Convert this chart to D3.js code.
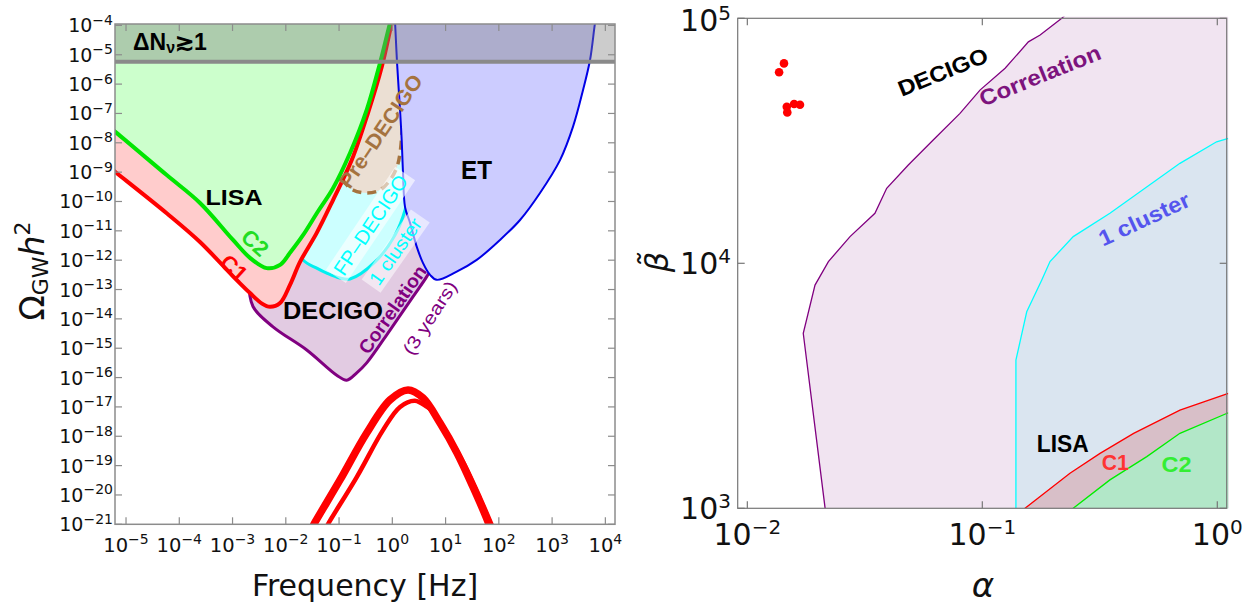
<!DOCTYPE html>
<html>
<head>
<meta charset="utf-8">
<script src="https://cdn.jsdelivr.net/npm/d3@7"></script>
<style>
  body { margin: 0; background: #fff; }
  svg { display: block; }
</style>
</head>
<body>
<svg id="chart" width="1256" height="609"></svg>
<script>
// ================= data =================
// Left panel: curves as [log10 f/Hz, log10 Omega_GW h^2]
const freqTickExp  = [-5, -4, -3, -2, -1, 0, 1, 2, 3, 4];
const omegaTickExp = [-21, -20, -19, -18, -17, -16, -15, -14, -13, -12, -11, -10, -9, -8, -7, -6, -5, -4];
const deltaNeffLog = -5.24;

const lisaC2 = [[-5.25,-7.56],[-5.207,-7.62],[-4.236,-9.10],[-3.611,-10.05],[-2.991,-11.31],[-2.672,-11.92],
  [-2.358,-12.27],[-2.10,-12.15],[-1.921,-11.75],[-1.677,-11.15],[-1.40,-10.35],[-1.113,-9.55],
  [-0.794,-8.35],[-0.481,-6.88],[-0.231,-5.28],[-0.043,-3.92],[0.02,-3.5]];
const lisaC1 = [[-5.25,-8.92],[-5.207,-8.985],[-4.236,-10.40],[-3.611,-11.38],[-2.991,-12.55],[-2.672,-13.12],
  [-2.447,-13.48],[-2.296,-13.59],[-2.108,-13.46],[-1.921,-12.84],[-1.733,-12.06],[-1.419,-11.07],
  [-1.113,-9.95],[-0.762,-8.59],[-0.456,-6.98],[-0.199,-5.42],[-0.011,-3.92],[0.05,-3.5]];
const decigoCorr = [[-2.70,-12.6],[-2.616,-13.58],[-2.24,-14.27],[-1.607,-15.06],[-1.044,-15.92],
  [-0.856,-16.09],[-0.668,-15.84],[-0.481,-15.50],[-0.043,-14.38],[0.389,-13.24],[0.646,-12.56],
  [0.80,-12.06],[0.99,-9.95],[1.08,-6.54],[1.18,-3.6]];
const fpDecigo = [[-2.296,-8.24],[-2.015,-10.46],[-1.677,-11.99],[-1.419,-12.27],[-1.232,-12.44],[-0.982,-12.61],
  [-0.794,-12.64],[-0.325,-12.06],[0.051,-11.14],[0.239,-10.29],[0.333,-9.27],[0.427,-7.22],
  [0.521,-4.5],[0.58,-3.5]];
const preDecigo = [[-1.02,-8.75],[-0.926,-9.27],[-0.738,-9.61],[-0.475,-9.71],[-0.231,-9.61],[-0.043,-9.27],
  [0.088,-8.82],[0.145,-8.35],[0.2,-7.2],[0.295,-5.2],[0.37,-3.6]];
const einsteinTel = [[0.04,-3.6],[0.051,-3.88],[0.088,-5.25],[0.145,-6.89],[0.176,-7.91],[0.201,-9.03],[0.239,-10.19],
  [0.333,-10.73],[0.458,-11.54],[0.577,-12.10],[0.709,-12.50],[0.834,-12.67],[1.209,-12.39],
  [1.585,-11.99],[2.022,-11.31],[2.398,-10.63],[2.773,-9.71],[3.149,-8.59],[3.393,-7.45],
  [3.581,-6.20],[3.712,-5.18],[3.806,-3.92],[3.84,-3.6]];
// predicted spectra (upper and lower benchmark)
const spectrumA = [[-1.56,-21.3],[-1.47,-20.99],[-0.982,-19.49],[-0.481,-17.89],[-0.043,-16.76],[0.295,-16.42],
  [0.574,-16.69],[0.896,-17.55],[1.215,-18.57],[1.515,-19.73],[1.797,-20.92],[1.83,-21.1]];
const spectrumB = [[-1.30,-21.3],[-1.207,-20.99],[-0.668,-19.39],[-0.175,-17.79],[0.145,-17.0],[0.426,-16.79],
  [0.652,-17.0],[0.708,-17.07],[1.027,-17.92],[1.346,-18.94],[1.647,-20.10],[1.928,-21.29]];

// Right panel: boundaries as [log10 alpha, log10 beta~]
const alphaTickExp = [-2, -1, 0];
const betaTickExp  = [3, 4, 5];
const corrBound = [[-1.669,2.98],[-1.669,3.0],[-1.762,3.714],[-1.712,3.911],[-1.655,4.007],[-1.563,4.109],
  [-1.457,4.204],[-1.407,4.306],[-1.315,4.401],[-1.209,4.503],[-1.095,4.612],[-1.010,4.707],
  [-0.903,4.796],[-0.804,4.904],[-0.754,4.932],[-0.662,5.0],[-0.64,5.02]];
const clusterBound = [[-0.857,2.98],[-0.857,3.605],[-0.811,3.802],[-0.747,3.932],[-0.712,4.007],[-0.613,4.109],
  [-0.457,4.204],[-0.159,4.408],[-0.003,4.496],[0.047,4.510]];
const lisaC1Bound = [[-0.825,2.99],[-0.818,3.0],[-0.627,3.143],[-0.499,3.224],[-0.356,3.306],[-0.159,3.401],[0.047,3.469]];
const lisaC2Bound = [[-0.62,2.99],[-0.613,3.0],[-0.457,3.116],[-0.300,3.211],[-0.159,3.306],[0.047,3.390]];
const benchAlpha = [0.01432, 0.01365, 0.01472, 0.01479, 0.01581, 0.01675];
const benchBeta  = [65460, 60260, 43550, 41300, 44670, 44360];

// ================= layout =================
const svg = d3.select('#chart');
const L = { x0: 115, x1: 615, y0: 24, y1: 524.3 };
const R = { x0: 737.7, x1: 1226.7, y0: 18.3, y1: 508.3 };

const xL = d3.scaleLog().domain([10 ** -5.207, 10 ** 4.181]).range([L.x0, L.x1]);
const yL = d3.scaleLog().domain([1e-21, 10 ** -3.952]).range([L.y1, L.y0]);
const xR = d3.scaleLog().domain([10 ** -2.041, 10 ** 0.040]).range([R.x0, R.x1]);
const yR = d3.scaleLog().domain([1e3, 1e5]).range([R.y1, R.y0]);

const defs = svg.append('defs');
defs.append('clipPath').attr('id', 'clipL').append('rect')
  .attr('x', L.x0).attr('y', L.y0).attr('width', L.x1 - L.x0).attr('height', L.y1 - L.y0);
defs.append('clipPath').attr('id', 'clipR').append('rect')
  .attr('x', R.x0).attr('y', R.y0 - 1.5).attr('width', R.x1 - R.x0 + 1.5).attr('height', R.y1 - R.y0 + 1.5);

const smooth = d3.line().x(d => xL(10 ** d[0])).y(d => yL(10 ** d[1])).curve(d3.curveCatmullRom.alpha(0.5));
const straight = d3.line().x(d => xR(10 ** d[0])).y(d => yR(10 ** d[1]));

// region above a sensitivity curve (closed through the top of the panel)
function aboveRegion(pts) {
  const first = pts[0], last = pts[pts.length - 1];
  return smooth(pts) + `L${xL(10 ** last[0])},-60L${xL(10 ** first[0])},-60Z`;
}

// ================= left panel =================
const gL = svg.append('g').attr('clip-path', 'url(#clipL)');

const layers = [
  { pts: decigoCorr, fill: '#e2cbe2', stroke: '#800080', w: 3 },
  { pts: fpDecigo,   fill: '#ccffff', stroke: '#00f0f0', w: 3 },
  { pts: preDecigo,  fill: '#ebdfd3', stroke: '#a5733f', w: 3.5, dash: '9,6' },
  { pts: lisaC1,     fill: '#ffcccc', stroke: '#ff0000', w: 4 },
  { pts: lisaC2,     fill: '#ccffcc', stroke: '#00e600', w: 4 },
  { pts: einsteinTel, fill: '#ccccff', stroke: '#0000e6', w: 2 }
];
layers.forEach(l => {
  gL.append('path').attr('d', aboveRegion(l.pts)).attr('fill', l.fill).attr('stroke', 'none');
  gL.append('path').attr('d', smooth(l.pts)).attr('fill', 'none')
    .attr('stroke', l.stroke).attr('stroke-width', l.w)
    .attr('stroke-dasharray', l.dash || null).attr('stroke-linejoin', 'round');
});

// signal spectra
gL.append('path').attr('d', smooth(spectrumA)).attr('fill', 'none').attr('stroke', '#ff0000').attr('stroke-width', 7.5);
gL.append('path').attr('d', smooth(spectrumB)).attr('fill', 'none').attr('stroke', '#ff0000').attr('stroke-width', 4.5);

// Delta N_eff bound
const yN = yL(10 ** deltaNeffLog);
gL.append('rect').attr('x', L.x0).attr('y', L.y0 - 2).attr('width', L.x1 - L.x0).attr('height', yN - L.y0 + 2)
  .attr('fill', '#808080').attr('fill-opacity', 0.4);
gL.append('line').attr('x1', L.x0).attr('x2', L.x1).attr('y1', yN).attr('y2', yN)
  .attr('stroke', '#8a8a8a').attr('stroke-width', 4);

// ================= right panel =================
const gR = svg.append('g').attr('clip-path', 'url(#clipR)');
const farR = R.x1 + 20, farB = R.y1 + 20, farT = R.y0 - 20;

gR.append('path').attr('d', straight(corrBound) + `L${farR},${farT}L${farR},${farB}Z`).attr('fill', '#f1e4f1');
gR.append('path').attr('d', straight(corrBound)).attr('fill', 'none').attr('stroke', '#800080').attr('stroke-width', 1.3);
gR.append('path').attr('d', straight(clusterBound) + `L${farR},${farB}Z`).attr('fill', '#dae5f0');
gR.append('path').attr('d', straight(clusterBound)).attr('fill', 'none').attr('stroke', '#00ffff').attr('stroke-width', 1.3);
gR.append('path').attr('d', straight(lisaC1Bound) + `L${farR},${farB}Z`).attr('fill', '#d8bfc8');
gR.append('path').attr('d', straight(lisaC1Bound)).attr('fill', 'none').attr('stroke', '#ff0000').attr('stroke-width', 1.3);
gR.append('path').attr('d', straight(lisaC2Bound) + `L${farR},${farB}Z`).attr('fill', '#b2e7c8');
gR.append('path').attr('d', straight(lisaC2Bound)).attr('fill', 'none').attr('stroke', '#00ee00').attr('stroke-width', 1.3);

// benchmark points
gR.selectAll('circle.bench').data(benchAlpha.map((a, i) => [a, benchBeta[i]])).enter()
  .append('circle').attr('class', 'bench')
  .attr('cx', d => xR(d[0])).attr('cy', d => yR(d[1])).attr('r', 4.3).attr('fill', '#ff0000');

// ================= labels =================
function rotLabel(g, o) {
  const t = g.append('g').attr('transform', `translate(${o.x},${o.y}) rotate(${o.angle || 0})`);
  const txt = t.append('text')
    .attr('text-anchor', o.anchor || 'middle')
    .attr('dominant-baseline', o.baseline || 'central')
    .attr('font-family', '"Liberation Sans", Arial, sans-serif')
    .attr('font-size', o.size).attr('font-weight', o.weight || 'normal')
    .attr('fill', o.color).text(o.text);
  if (o.len) txt.attr('textLength', o.len).attr('lengthAdjust', 'spacingAndGlyphs');
  if (o.box) {
    const bb = txt.node().getBBox();
    t.insert('rect', 'text').attr('x', bb.x - 4).attr('y', bb.y - 1)
      .attr('width', bb.width + 8).attr('height', bb.height + 2)
      .attr('fill', '#fff').attr('fill-opacity', o.box);
  }
}
const gLab = svg.append('g');
const leftLabels = [
  { text: 'Pre–DECIGO', f: -0.222, o: -7.60, angle: -56, size: 21, weight: 'bold', color: '#a5733f', len: 132 },
  { text: 'FP–DECIGO', f: -0.409, o: -10.80, angle: -56, size: 20, color: '#00ffff', box: 0.6, len: 116 },
  { text: '1 cluster', f: 0.060, o: -11.70, angle: -55, size: 19, color: '#00ffff', box: 0.55, len: 77 },
  { text: 'Correlation', f: 0.004, o: -13.68, angle: -55, size: 19, weight: 'bold', color: '#800080', len: 103 },
  { text: '(3 years)', f: 0.708, o: -13.97, angle: -57, size: 18, color: '#800080', len: 84 },
  { text: 'C2', f: -2.578, o: -11.41, angle: 42, size: 22, weight: 'bold', color: '#22dd22' },
  { text: 'C1', f: -2.972, o: -12.27, angle: 42, size: 22, weight: 'bold', color: '#ff0000' },
  { text: 'LISA', f: -2.972, o: -9.85, size: 22, weight: 'bold', color: '#000', len: 57 },
  { text: 'ET', f: 1.581, o: -8.94, size: 25, weight: 'bold', color: '#000', len: 31 },
  { text: 'DECIGO', f: -1.113, o: -13.70, size: 24, weight: 'bold', color: '#000', len: 100 }
];
leftLabels.forEach(d => rotLabel(gLab, { ...d, x: xL(10 ** d.f), y: yL(10 ** d.o) }));

// Delta N label
const dn = gLab.append('text').attr('x', xL(10 ** -4.869)).attr('y', yL(10 ** -4.84))
  .attr('font-family', '"Liberation Sans", Arial, sans-serif').attr('font-weight', 'bold')
  .attr('font-size', 23).attr('fill', '#000');
dn.append('tspan').text('ΔN');
dn.append('tspan').attr('font-size', 16).attr('dy', 3).text('ν');
dn.append('tspan').attr('dy', -3).text('≳1');

const rightLabels = [
  { text: 'DECIGO', a: -1.343, b: 4.680, angle: -22, size: 22, color: '#000', len: 95 },
  { text: 'Correlation', a: -0.997, b: 4.639, angle: -22, size: 22, color: '#7d137d', len: 129 },
  { text: '1 cluster', a: -0.486, b: 4.068, angle: -25, size: 22, color: '#5555ee', len: 98 },
  { text: 'LISA', a: -0.768, b: 3.231, angle: 0, size: 23, color: '#000', len: 52 },
  { text: 'C1', a: -0.492, b: 3.156, angle: 0, size: 22, color: '#ff3333', len: 27 },
  { text: 'C2', a: -0.237, b: 3.149, angle: 0, size: 22, color: '#33ee33', len: 30 }
];
rightLabels.forEach(d => rotLabel(gLab, { ...d, x: xR(10 ** d.a), y: yR(10 ** d.b), weight: 'bold', anchor: 'start', baseline: 'alphabetic' }));

// ================= frames, ticks, axis titles =================
const frame = svg.append('g').attr('fill', 'none');
function drawFrame(P, xs, ys, xScale, yScale, color, w) {
  frame.append('rect').attr('x', P.x0).attr('y', P.y0).attr('width', P.x1 - P.x0).attr('height', P.y1 - P.y0)
    .attr('stroke', color).attr('stroke-width', w);
  xs.forEach(e => {
    const x = xScale(10 ** e);
    frame.append('line').attr('x1', x).attr('x2', x).attr('y1', P.y1).attr('y2', P.y1 - 7).attr('stroke', color).attr('stroke-width', 1.2);
    frame.append('line').attr('x1', x).attr('x2', x).attr('y1', P.y0).attr('y2', P.y0 + 7).attr('stroke', color).attr('stroke-width', 1.2);
  });
  ys.forEach(e => {
    const y = yScale(10 ** e);
    frame.append('line').attr('x1', P.x0).attr('x2', P.x0 + 7).attr('y1', y).attr('y2', y).attr('stroke', color).attr('stroke-width', 1.2);
    frame.append('line').attr('x1', P.x1).attr('x2', P.x1 - 7).attr('y1', y).attr('y2', y).attr('stroke', color).attr('stroke-width', 1.2);
  });
}
drawFrame(L, freqTickExp, omegaTickExp, xL, yL, '#8c8c8c', 1.5);
drawFrame(R, alphaTickExp, betaTickExp, xR, yR, '#777', 1.2);

const tickFont = '"DejaVu Sans", sans-serif';
function powLabel(g, x, y, exp, base, sup, supDy, anchor) {
  const t = g.append('text').attr('x', x).attr('y', y).attr('text-anchor', anchor)
    .attr('font-family', tickFont).attr('font-size', base).attr('fill', '#111');
  t.append('tspan').text('10');
  t.append('tspan').attr('font-size', sup).attr('dy', supDy).text(String(exp).replace('-', '−'));
}
const ticksG = svg.append('g');
omegaTickExp.forEach(e => powLabel(ticksG, 113, yL(10 ** e) + 7, e, 19, 14, -7.5, 'end'));
freqTickExp.forEach(e => powLabel(ticksG, xL(10 ** e), 552, e, 19.5, 14, -8, 'middle'));
betaTickExp.forEach(e => powLabel(ticksG, 731, Math.max(yR(10 ** e) + 11, 31), e, 30, 20, -11, 'end'));
alphaTickExp.forEach(e => powLabel(ticksG, xR(10 ** e), 545, e, 30, 20, -11, 'middle'));

svg.append('text').attr('x', 365).attr('y', 596).attr('text-anchor', 'middle')
  .attr('font-family', tickFont).attr('font-size', 30).attr('fill', '#111').text('Frequency [Hz]');
const yt = svg.append('text').attr('transform', 'translate(44,271) rotate(-90)').attr('text-anchor', 'middle')
  .attr('font-family', tickFont).attr('font-size', 33).attr('fill', '#111');
yt.append('tspan').text('Ω');
yt.append('tspan').attr('font-size', 22).attr('dy', 4).text('GW');
yt.append('tspan').attr('font-style', 'italic').attr('dy', -4).text('h');
yt.append('tspan').attr('font-size', 22).attr('dy', -14).text('2');

svg.append('text').attr('x', 983).attr('y', 597).attr('text-anchor', 'middle')
  .attr('font-family', tickFont).attr('font-style', 'italic').attr('font-size', 34).attr('fill', '#111').text('α');
svg.append('text').attr('transform', 'translate(668,262) rotate(-90)').attr('text-anchor', 'middle')
  .attr('font-family', tickFont).attr('font-style', 'italic').attr('font-size', 32).attr('fill', '#111').text('β̃');
</script>
</body>
</html>
